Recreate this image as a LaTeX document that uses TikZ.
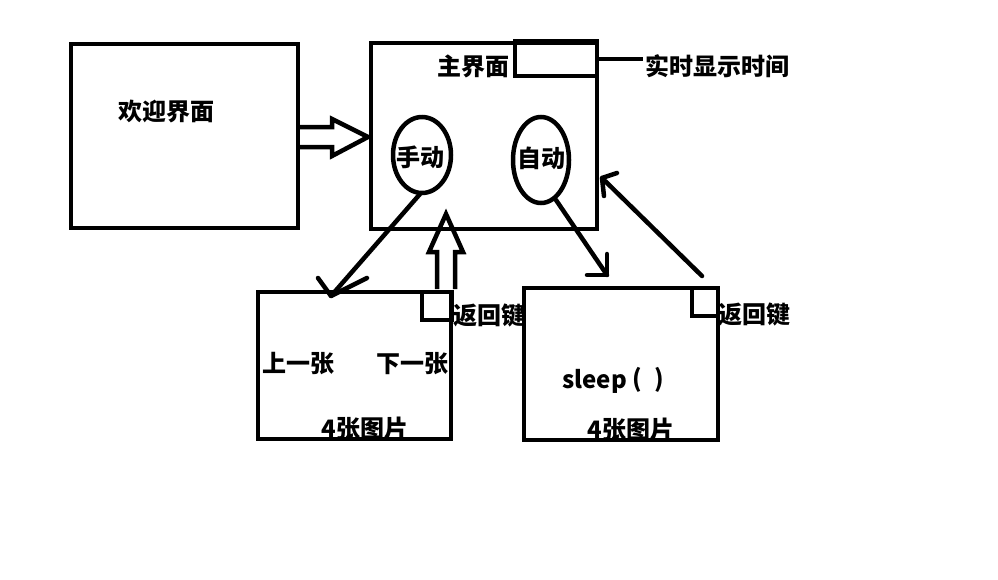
\documentclass[tikz,border=0pt]{standalone}
\usepackage{fontspec}
\setmainfont{Noto Sans CJK SC}
\begin{document}
\begin{tikzpicture}[x=1pt,y=-1pt,
  box/.style={draw=black,line width=4.5pt,fill=none,outer sep=0pt,inner sep=0pt,anchor=north west},
  lbl/.style={font=\fontsize{24}{24}\selectfont\bfseries,inner sep=0pt},
  ln/.style={draw=black,line width=4.5pt,line cap=round,line join=round}]
\useasboundingbox[fill=white] (0,0) rectangle (998,579);
% boxes
\node[box,minimum width=227pt,minimum height=184pt] (welcome) at (71,44) {};
\node[lbl] (welcometxt) at (166,111) {欢迎界面};
\node[box,minimum width=226pt,minimum height=186pt] (main) at (371,43) {};
\node[lbl] (maintxt) at (473,66) {主界面};
\node[box,minimum width=82pt,minimum height=35pt] (clock) at (515,41) {};
\node[lbl,anchor=west] (clocktxt) at (645,66) {实时显示时间};
\coordinate (cb) at (643,59);
\draw[ln,line cap=butt] (clock.east |- cb) -- (cb);
% ellipses
\draw[line width=4.5pt] (422,155) ellipse (29 and 38);
\node[lbl] (mantxt) at (420,157) {手动};
\draw[line width=4.5pt] (541,160) ellipse (28 and 43);
\node[lbl] (autotxt) at (541,158) {自动};
% lower boxes
\node[box,minimum width=193pt,minimum height=147pt] (left) at (258,292) {};
\node[box,minimum width=30pt,minimum height=28pt] (lback) at (422,292) {};
\node[lbl,anchor=west] (lbacktxt) at (453,315) {返回键};
\node[lbl] (prev) at (298,364) {上一张};
\node[lbl] (next) at (412,364) {下一张};
\node[lbl] (lpics) at (365,428) {4张图片};
\node[box,minimum width=194pt,minimum height=152pt] (right) at (524,288) {};
\node[box,minimum width=26pt,minimum height=28pt] (rback) at (692,288) {};
\node[lbl,anchor=west] (rbacktxt) at (718,314) {返回键};
\node[lbl,anchor=west] (sleep) at (562,381) {sleep};
\node[lbl] (lpar) at (637,380) {(};
\node[lbl] (rpar) at (659,380) {)};
\node[lbl] (rpics) at (631,429) {4张图片};
% hollow arrow welcome -> main
\draw[line width=4.5pt,line join=miter] (300,127) -- (332,127) -- (332,119) -- (368,137) -- (332,156) -- (332,147) -- (300,147);
% hollow up arrow
\draw[line width=4.5pt,line join=miter] (437,289) -- (437,252) -- (429,252) -- (446,214) -- (463,252) -- (455,252) -- (455,289);
% arrow manual -> left box
\coordinate (m1) at (420,194);
\coordinate (m2) at (331,296);
\draw[ln] (m1) -- (m2);
\draw[ln] (318,278) -- (m2) -- (367,278);
% arrow auto -> right box
\coordinate (a1) at (556,200);
\coordinate (a2) at (607,275);
\draw[ln] (a1) -- (a2);
\draw[ln] (587,275) -- (a2) -- (607,254);
% arrow right box -> main
\coordinate (r1) at (702,276);
\coordinate (r2) at (602,178);
\draw[ln] (r1) -- (r2);
\draw[ln] (617,173) -- (r2) -- (604,196);
\end{tikzpicture}
\end{document}
